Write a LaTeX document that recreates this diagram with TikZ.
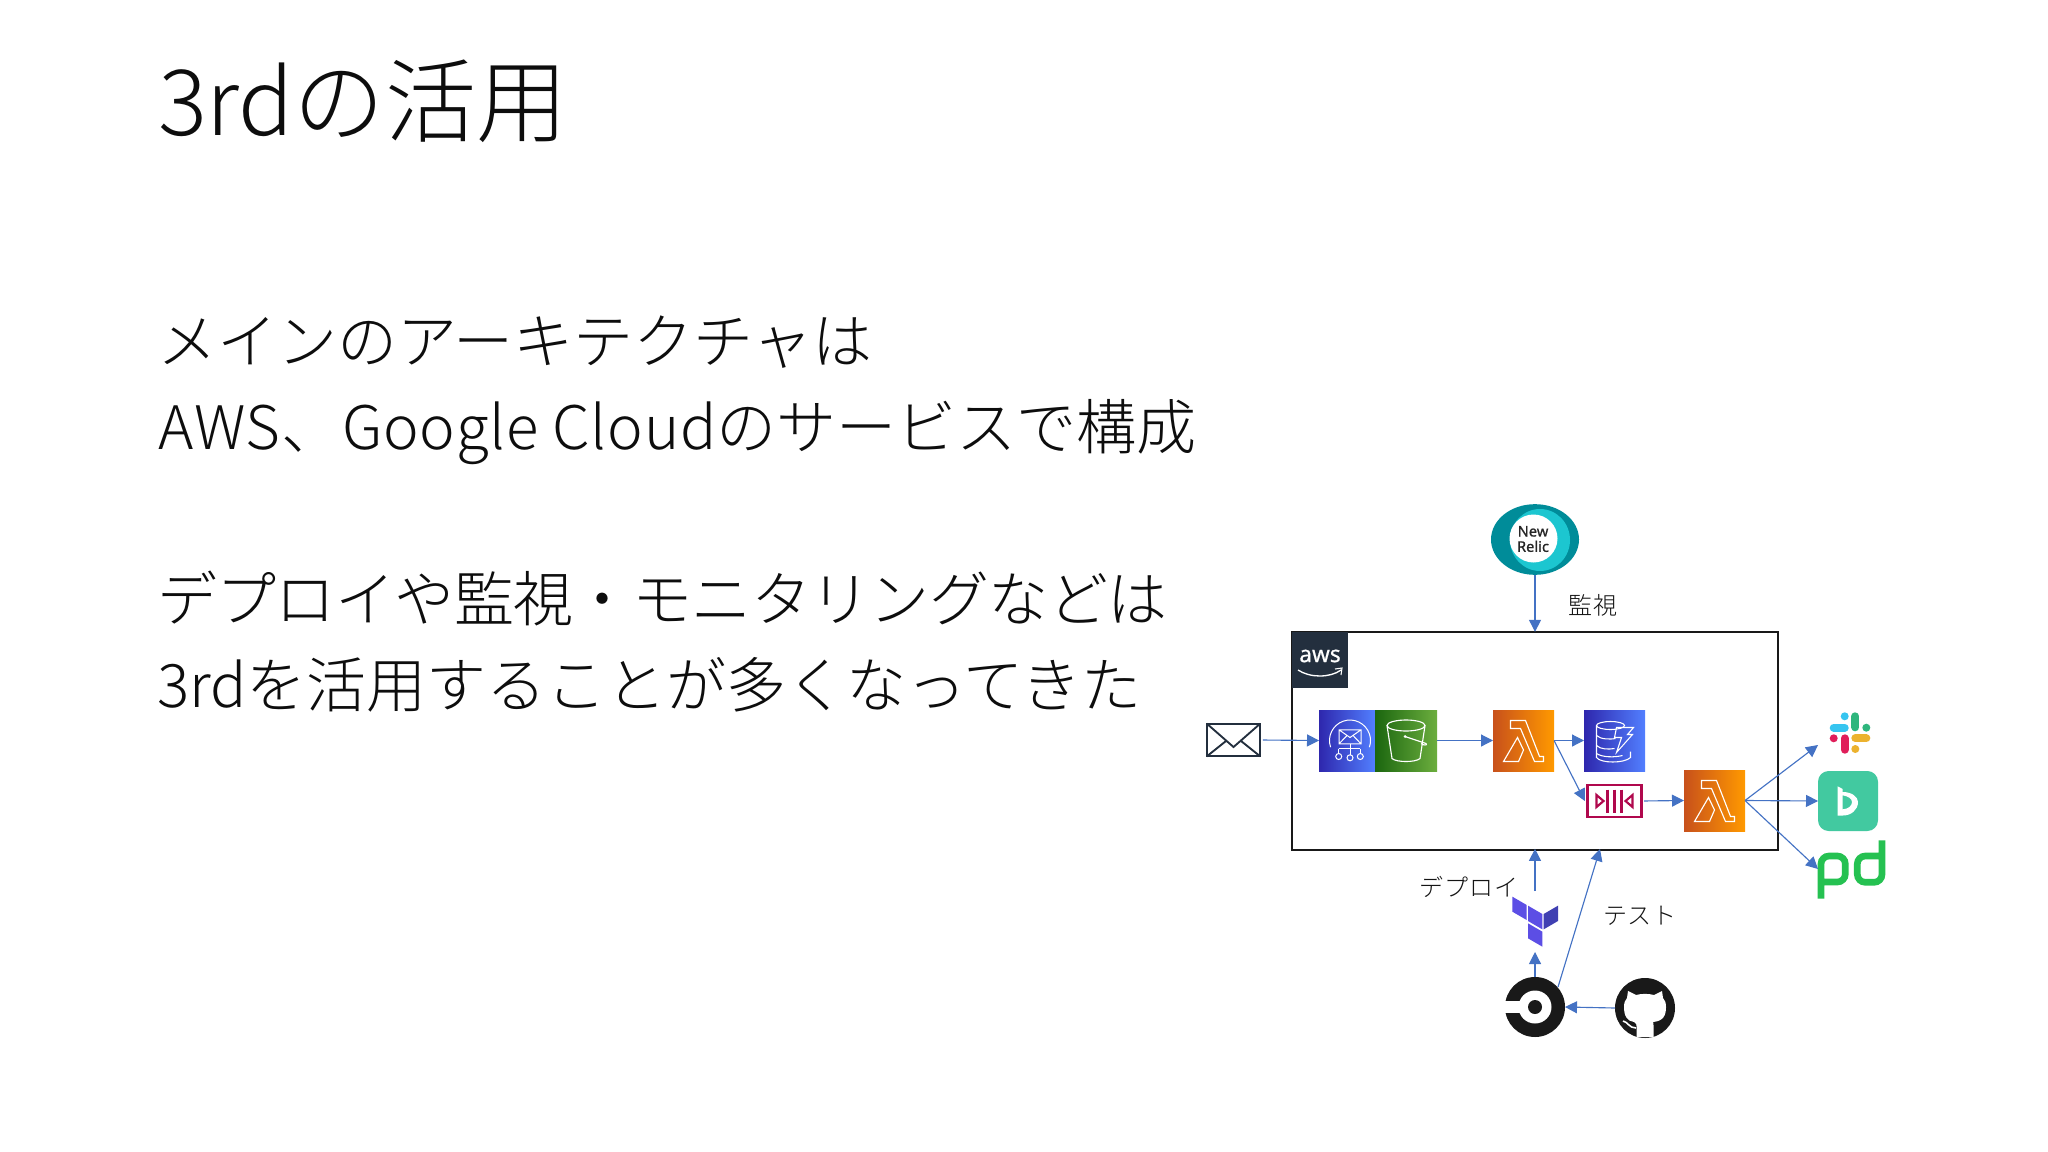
\documentclass[tikz,border=0pt]{standalone}
\usepackage{fontspec}
\setmainfont{Noto Sans CJK JP Light}
\newfontfamily\nrfont[FakeBold=0.7]{Noto Sans}
\usetikzlibrary{arrows.meta,shapes.geometric}
\definecolor{awsdark}{HTML}{232F3E}
\definecolor{link}{HTML}{4472C4}
\definecolor{kincol}{HTML}{B0084D}
\definecolor{tfa}{HTML}{5C4EE5}
\definecolor{tfb}{HTML}{4040B2}
\definecolor{pdgreen}{HTML}{25C151}
\definecolor{btgreen}{HTML}{42C9A0}
\definecolor{nrdark}{HTML}{008C99}
\definecolor{nrlight}{HTML}{1CC6D0}
\definecolor{orange1}{HTML}{C8511B}
\definecolor{orange2}{HTML}{FF9900}
\definecolor{blue1}{HTML}{2E27AD}
\definecolor{blue2}{HTML}{527FFF}
\definecolor{green1}{HTML}{1B660F}
\definecolor{green2}{HTML}{6CAE3E}
\definecolor{slb}{HTML}{36C5F0}
\definecolor{slg}{HTML}{2EB67D}
\definecolor{slr}{HTML}{E01E5A}
\definecolor{sly}{HTML}{ECB22E}
\tikzset{
  x=.75pt,y=-.75pt,
  tx/.style={inner sep=0pt,outer sep=0pt,anchor=base west,text=black!95},
  title/.style={tx,font=\fontsize{68.5}{80}\selectfont},
  body/.style={tx,font=\fontsize{45}{54}\selectfont},
  lab/.style={inner sep=0pt,font=\fontsize{18}{20}\selectfont\addfontfeature{LetterSpace=3},text=black!92},
  box/.style={inner sep=0pt,outer sep=0pt,minimum width=#1*.75pt,minimum height=45.75pt},
  orangebox/.style={shading angle=45,left color=orange1,right color=orange2},
  bluebox/.style={shading angle=45,left color=blue1,right color=blue2},
  greenbox/.style={shading angle=45,left color=green1,right color=green2},
  conn/.style={draw=link,line width=.85pt,-{Triangle[length=9pt,width=9pt]}},
  ico/.style={draw=white,line width=.85pt,line join=miter},
  lambdaicon/.pic={
    \draw[ico] (-13,-20)--(2,-20)--(16,16)--(20,16)--(20,21)--(11,21)--(-3,-12)--(-13,-12)--cycle;
    \draw[ico] (-6,-3)--(0,9.5)--(-5,21)--(-20,21)--cycle;
  },
}
\begin{document}
\begin{tikzpicture}
\path[use as bounding box,fill=white] (0,0) rectangle (2048,1152);
% texts
\node[title] (t) at (158,136) {3rdの活用};
\node[body] (l1) at (157,363) {メインのアーキテクチャは};
\node[body] (l2) at (158,449) {{\addfontfeature{LetterSpace=1.3}AWS、Google Cloud}のサービスで構成};
\node[body] (l3) at (157,621) {{\addfontfeature{LetterSpace=-1.0}デプロイや監視・モニタリングなどは}};
\node[body] (l4) at (157,707) {3rdを活用することが多くなってきた};
% frame
\node[draw=black!90,line width=1.9pt,inner sep=0pt,outer sep=0pt,minimum width=364.5pt,minimum height=163.75pt] (frame) at (1535,741) {};
\node[fill=awsdark,inner sep=0pt,outer sep=0pt,minimum size=42pt] (aws) at (1320,660) {};
\node[text=white,inner sep=0pt,font=\nrfont\fontsize{17}{17}\selectfont] (awst) at (1320,656) {aws};
\draw[white,line width=1pt] (1298,670) .. controls (1310,678) and (1330,678) .. (1341,670);
\draw[white,line width=.8pt] (1335,669)--(1342,668)--(1341,675);
% boxes
\node[box=56,bluebox] (ses) at (1347,740.5) {};
\node[box=62,greenbox] (s3) at (1406,740.5) {};
\node[box=61,orangebox] (lam1) at (1523.5,740.5) {};
\node[box=61,bluebox] (ddb) at (1614.5,740.5) {};
\node[draw=kincol,line width=1.6pt,fill=white,inner sep=0pt,outer sep=0pt,minimum width=40.5pt,minimum height=24.5pt] (kin) at (1614.5,801) {};
\node[box=61,orangebox] (lam2) at (1714.5,800.5) {};
\node[draw=awsdark,line width=1.6pt,fill=white,inner sep=0pt,outer sep=0pt,minimum width=40pt,minimum height=24.5pt] (env) at (1233.5,740) {};
% envelope
\draw[awsdark,line width=1.4pt] (env.north west)--(1233.5,747)--(env.north east) (env.south west)--(1226,741) (env.south east)--(1241,741);
% ses
\begin{scope}[shift={(ses.center)}]
 \draw[white,line width=.75pt] (-16.4,6.7) arc[start angle=161,end angle=379,radius=20.5];
 \draw[white,line width=.75pt] (-8,-10.7) rectangle (14,3.3) (-8,-10.7)--(3,-3)--(14,-10.7) (-8,3.3)--(0,-5) (14,3.3)--(6,-5);
 \draw[white,line width=.75pt] (3,3.3)--(3,14.3) (-8.3,8)--(13.3,8) (-8.3,8)--(-8.3,13) (13.3,8)--(13.3,13);
 \draw[white,line width=.75pt] (-8.3,16) circle[radius=3] (3,17.3) circle[radius=3] (13.3,16) circle[radius=3];
\end{scope}
% s3
\begin{scope}[shift={(s3.center)}]
 \draw[white,line width=.85pt] (0,-15) ellipse[x radius=19,y radius=5.5];
 \draw[white,line width=.85pt] (-19,-15)--(-14,18) .. controls (-10,22) and (10,22) .. (14,18)--(19,-15);
 \draw[white,line width=.85pt] (-1,-4)--(20,3) .. controls (22,5) and (17,5) .. (15,3);
 \fill[white] (-1,-4) circle[radius=1.5];
\end{scope}
\pic at (lam1.center) {lambdaicon};
\pic at (lam2.center) {lambdaicon};
% dynamodb
\begin{scope}[shift={(ddb.center)}]
 \draw[white,line width=.8pt] (-4,-15) ellipse[x radius=14,y radius=4];
 \draw[white,line width=.8pt] (-18,-15)--(-18,17) .. controls (-14,23) and (10,23) .. (16,17)--(16,11);
 \draw[white,line width=.8pt] (-18,-5) .. controls (-14,-1) and (-4,-1) .. (1,-2) (-18,5) .. controls (-14,9) and (-6,9) .. (0,8) (-18,13) .. controls (-12,17) and (0,17) .. (8,15);
 \draw[white,line width=.8pt] (2,-13)--(19,-13)--(13,-6)--(18,-6)--(2,12)--(7,-3)--(0,-3)--cycle;
\end{scope}
% kinesis
\begin{scope}[shift={(kin.center)}]
 \draw[kincol,line width=1.6pt] (-18,-6)--(-11,0)--(-18,6)--cycle (18,-6)--(11,0)--(18,6)--cycle;
 \draw[kincol,line width=1.6pt] (-7,-11.5)--(-7,11.5) (0,-11.5)--(0,11.5) (7,-11.5)--(7,11.5);
\end{scope}
% new relic
\node[fill=nrdark,ellipse,inner sep=0pt,outer sep=0pt,minimum width=66pt,minimum height=53pt] (nr) at (1535,539.5) {};
\begin{scope}
 \clip (1535,539.5) ellipse[x radius=44,y radius=35.5];
 \fill[nrlight] (1540,540) ellipse[x radius=30,y radius=31];
\end{scope}
\fill[white] (1533.5,538.5) circle[radius=24];
\node[align=center,inner sep=0pt,text=black!85,font=\nrfont\fontsize{11}{11.5}\selectfont] (nrt) at (1533,539) {New\\Relic};
% slack
\node[inner sep=0pt,outer sep=0pt,minimum size=30pt] (slack) at (1850,733) {};
\begin{scope}[shift={(slack.center)},line cap=round,line width=6pt]
 \draw[slb] (-16.3,-5.3)--(-5.3,-5.3);
 \fill[slb] (-5.3,-16.7) circle[radius=4];
 \draw[slg] (5.3,-16.7)--(5.3,-5.7);
 \fill[slg] (16.3,-5.3) circle[radius=4];
 \draw[slr] (-5.3,5.3)--(-5.3,16.7);
 \fill[slr] (-16.3,5.3) circle[radius=4];
 \draw[sly] (5.3,5.3)--(16.3,5.3);
 \fill[sly] (5.3,16) circle[radius=4];
\end{scope}
% bitrise
\node[fill=btgreen,rounded corners=8pt,inner sep=0pt,outer sep=0pt,minimum size=45pt] (bit) at (1848,801) {};
\begin{scope}[shift={(bit.center)}]
 \fill[white,even odd rule] (-10.5,-14.7)--(-5.3,-12)--(-5.3,-9) .. controls (4,-9) and (10,-4) .. (10,1) .. controls (10,9) and (3,14.5) .. (-5,14.5)--(-10.5,14.5)--cycle
  (-5.3,-5.7) .. controls (0,-5) and (4,-2) .. (4,1) .. controls (4,5) and (0,8) .. (-5.3,8.3)--cycle;
\end{scope}
% pd
\node[inner sep=0pt,outer sep=0pt,minimum width=51pt,minimum height=44pt] (pd) at (1852,869.5) {};
\begin{scope}[shift={(pd.center)}]
 \draw[pdgreen,line width=5pt,rounded corners=6pt] (-31,29.2)--(-31,-13.5)--(-6.7,-13.5)--(-6.7,12.5)--(-31,12.5);
 \draw[pdgreen,line width=5pt,rounded corners=6pt] (30,-29.2)--(30,12.8)--(5.3,12.8)--(5.3,-13.5)--(30,-13.5);
\end{scope}
% terraform
\node[inner sep=0pt,outer sep=0pt,minimum width=34pt,minimum height=38pt] (tf) at (1535,921) {};
\begin{scope}[shift={(1380,840)},x=.25pt,y=-.25pt]
 \fill[tfa] (397,170)--(440,195)--(440,240)--(397,215)--cycle;
 \fill[tfa] (444,197)--(487,222)--(487,268)--(444,243)--cycle;
 \fill[tfb] (534,197)--(491,222)--(491,268)--(534,243)--cycle;
 \fill[tfa] (444,250)--(487,275)--(487,320)--(444,295)--cycle;
\end{scope}
% circleci
\node[inner sep=0pt,outer sep=0pt,minimum size=45pt,circle] (cci) at (1535,1007) {};
\begin{scope}[shift={(cci.center)}]
 \fill[black!90] (0,0) circle[radius=30];
 \fill[white] (0,0) circle[radius=16.5];
 \fill[white] (-31,-6) rectangle (-10,6);
 \fill[black!90] (0,0) circle[radius=7];
\end{scope}
% github
\node[inner sep=0pt,outer sep=0pt,minimum size=45pt,circle] (gh) at (1645,1008) {};
\begin{scope}[shift={(gh.center)}]
 \fill[black!90] (0,0) circle[radius=30];
 \fill[white] (-8.5,29)--(-8.5,18) .. controls (-8.5,16) .. (-11,14) .. controls (-18,13) and (-21,8) .. (-21,-1) .. controls (-21,-5) and (-20,-8) .. (-18,-10)--(-17,-17)--(-9,-13) .. controls (-4,-14.5) and (4,-14.5) .. (9,-13)--(17,-17)--(18,-10) .. controls (20,-8) and (21,-5) .. (21,-1) .. controls (21,8) and (18,13) .. (8,14) .. controls (8.5,15) .. (8.5,18)--(8.5,29)--cycle;
 \draw[white,line width=1.2pt] (-22,13) .. controls (-17,14) and (-16,20) .. (-9,20);
\end{scope}
% labels
\node[lab] (l5) at (1593,605) {監視};
\node[lab] (l6) at (1469,887) {デプロイ};
\node[lab] (l7) at (1640,916) {テスト};
% connectors
\coordinate (c0) at (1558,987);
\coordinate (c1) at (1600,849);
\coordinate (c2) at (1818,745);
\coordinate (c3) at (1818,869);
\coordinate (c4) at (1535,891);
\coordinate (c5) at (1535,952);
\draw[conn,shorten <=2pt] (env.east)--(ses.west);
\draw[conn] (s3.east)--(lam1.west);
\draw[conn] (lam1.east)--(ddb.west);
\draw[conn] (lam1.east)--([xshift=-2pt]kin.west);
\draw[conn,shorten <=2pt] (kin.east)--(lam2.west);
\draw[conn] (lam2.east)--(c2);
\draw[conn] (lam2.east)--(bit.west);
\draw[conn] (lam2.east)--(c3);
\draw[conn] (nr.south)--(frame.north);
\draw[conn] (c4)--([yshift=1pt]frame.south);
\draw[conn] (cci.north)--(c5);
\draw[conn] (gh.west)--(cci.east);
\draw[conn] (c0)--(c1);
\end{tikzpicture}
\end{document}
